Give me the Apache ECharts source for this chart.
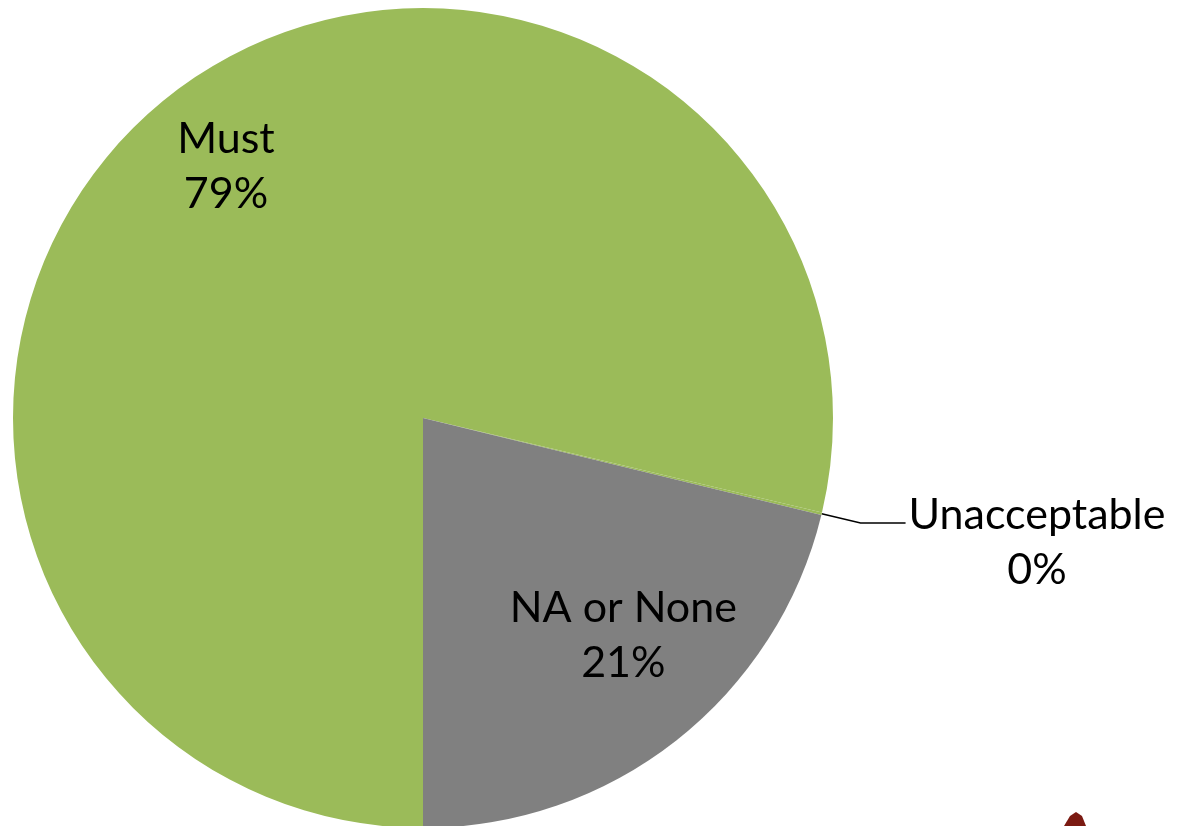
<!DOCTYPE html>
<html>
<head>
<meta charset="utf-8">
<style>
    html, body { margin: 0; padding: 0; background: #fff; }
    #pie { width: 1192px; height: 826px; }
</style>
<script src="https://cdn.jsdelivr.net/npm/echarts@6/dist/echarts.min.js"></script>
</head>
<body>
<div id="pie"></div>
<script>
// slices, clockwise from 6 o'clock
var categories = ['Must', 'Unacceptable', 'NA or None'];
var shares = [78.7, 0.1, 21.2];
var colors = ['#9BBB59', '#9BBB59', '#808080'];

var FONT = 'Lato, Calibri, sans-serif';
var FSIZE = 43;
var LHEIGHT = 55;

function pctText(p) {
    return Math.round(p.percent) + '%';
}

function buildData(showInside) {
    var out = [];
    for (var i = 0; i < categories.length; i++) {
        var item = {
            name: categories[i],
            value: shares[i]
        };
        if (showInside) {
            item.label = { show: categories[i] !== 'Unacceptable' };
        } else {
            item.itemStyle = { color: colors[i] };
            item.label = { show: categories[i] === 'Unacceptable' };
            item.labelLine = { show: categories[i] === 'Unacceptable' };
        }
        out.push(item);
    }
    return out;
}

function drawPie() {
    var dom = document.getElementById('pie');
    var chart = echarts.init(dom, null, { renderer: 'canvas' });
    var option = {
        animation: false,
        backgroundColor: '#ffffff',
        series: [{
                // the real pie, only the outside label for the 0% slice
                type: 'pie',
                center: [423, 418],
                radius: [0, 410],
                startAngle: -90,
                clockwise: true,
                avoidLabelOverlap: false,
                silent: true,
                data: buildData(false),
                label: {
                    position: 'outside',
                    color: '#000',
                    fontFamily: FONT,
                    fontSize: FSIZE,
                    lineHeight: LHEIGHT,
                    distanceToLabelLine: 3,
                    padding: [40, 0, 0, 0],
                    formatter: function(p) {
                        return '{c|' + p.name + '}\n{c|' + pctText(p) + '}';
                    },
                    rich: {
                        c: {
                            align: 'center',
                            color: '#000',
                            fontFamily: FONT,
                            fontSize: FSIZE,
                            lineHeight: LHEIGHT
                        }
                    }
                },
                labelLine: {
                    length: 40,
                    length2: 45,
                    smooth: false,
                    lineStyle: { color: '#000', width: 1.5 }
                }
            },
            {
                // transparent copy to put the inside labels further out
                type: 'pie',
                center: [423, 418],
                radius: [200, 410],
                startAngle: -90,
                clockwise: true,
                silent: true,
                z: 3,
                data: buildData(true),
                itemStyle: { color: 'rgba(0,0,0,0)' },
                label: {
                    position: 'inside',
                    color: '#000',
                    fontFamily: FONT,
                    fontSize: FSIZE,
                    lineHeight: LHEIGHT,
                    formatter: function(p) {
                        return p.name + '\n' + pctText(p);
                    }
                },
                labelLine: { show: false },
                // nudge like excel's best fit
                labelLayout: function(params) {
                    if (params.dataIndex === 0) return { dx: -6, dy: -10 };
                    if (params.dataIndex === 2) return { dx: 10, dy: -25 };
                    return {};
                }
            }
        ],
        graphic: [{
            // bit of a logo cut off at the bottom edge
            type: 'polygon',
            silent: true,
            shape: {
                points: [[1064, 826], [1070, 816], [1076, 812], [1082, 816], [1086, 826]]
            },
            style: { fill: '#7B1A12' }
        }]
    };
    chart.setOption(option, true);
    window.addEventListener('resize', function() {
        chart.resize();
    });
}

drawPie();
</script>
</body>
</html>
